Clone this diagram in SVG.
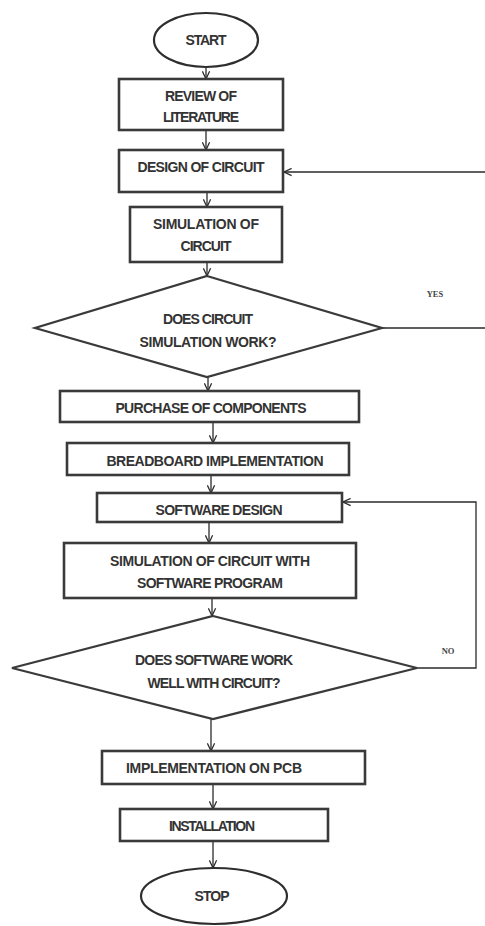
<svg xmlns="http://www.w3.org/2000/svg" width="485" height="926" viewBox="0 0 485 926">
  <defs>
    <marker id="arrow" viewBox="0 0 10 10" refX="9.5" refY="5" markerWidth="9" markerHeight="9" markerUnits="userSpaceOnUse" orient="auto">
      <path d="M1,1 L9.5,5 L1,9" fill="none" stroke="#2b2b2b" stroke-width="1.4"/>
    </marker>
  </defs>
  <style>
    .box { fill: #ffffff; stroke: #3a3a3a; stroke-width: 2.6; }
    .dia { fill: #ffffff; stroke: #3a3a3a; stroke-width: 2.2; }
    .term { fill: #ffffff; stroke: #2e2e2e; stroke-width: 2.2; }
    .lbl { font-family: "Liberation Sans", Arial, sans-serif; font-size: 14px; font-weight: bold; fill: #333333; text-anchor: middle; }
    .cond { font-family: "Liberation Serif", "Times New Roman", serif; font-size: 8.5px; font-weight: bold; fill: #444444; text-anchor: middle; }
    .conn { fill: none; stroke: #2b2b2b; stroke-width: 1.3; marker-end: url(#arrow); }
  </style>
  <rect width="485" height="926" fill="#ffffff"/>

  <!-- flow connectors -->
  <g id="connectors">
    <path class="conn" d="M206,67 V79"/>
    <path class="conn" d="M206,130 V150"/>
    <path class="conn" d="M207,192 V207"/>
    <path class="conn" d="M207,262 V276"/>
    <path class="conn" d="M208,377 V391"/>
    <path class="conn" d="M213,422 V443"/>
    <path class="conn" d="M211,475 V493"/>
    <path class="conn" d="M209,522 V543"/>
    <path class="conn" d="M212,598 V616"/>
    <path class="conn" d="M211,719 V751"/>
    <path class="conn" d="M213,785 V809"/>
    <path class="conn" d="M213,841 V868"/>
    <!-- YES: back to circuit design -->
    <path class="conn" d="M382,328 H492 V172 H284"/>
    <!-- NO: back to software design -->
    <path class="conn" d="M417,668 H476 V502 H343"/>
    <text class="cond" x="435" y="297">YES</text>
    <text class="cond" x="448" y="654">NO</text>
  </g>

  <g id="start">
    <ellipse class="term" cx="206" cy="40" rx="52" ry="27"/>
    <text class="lbl" x="206" y="45" textLength="41">START</text>
  </g>

  <g id="review-literature">
    <rect class="box" x="119" y="79" width="164" height="51"/>
    <text class="lbl" x="201" y="101" textLength="72">REVIEW OF</text>
    <text class="lbl" x="201" y="122" textLength="76">LITERATURE</text>
  </g>

  <g id="design-circuit">
    <rect class="box" x="119" y="150" width="164" height="42"/>
    <text class="lbl" x="201" y="172" textLength="127">DESIGN OF CIRCUIT</text>
  </g>

  <g id="simulate-circuit">
    <rect class="box" x="130" y="207" width="152" height="55"/>
    <text class="lbl" x="206" y="229" textLength="106">SIMULATION OF</text>
    <text class="lbl" x="206" y="251" textLength="51">CIRCUIT</text>
  </g>

  <g id="circuit-works">
    <polygon class="dia" points="207,276 382,328 207,377 35,328"/>
    <text class="lbl" x="208" y="324" textLength="90">DOES CIRCUIT</text>
    <text class="lbl" x="208" y="347" textLength="137">SIMULATION WORK?</text>
  </g>

  <g id="purchase-components">
    <rect class="box" x="60" y="391" width="299" height="31"/>
    <text class="lbl" x="211" y="413" textLength="191">PURCHASE OF COMPONENTS</text>
  </g>

  <g id="breadboard">
    <rect class="box" x="67" y="443" width="282" height="32"/>
    <text class="lbl" x="215" y="466" textLength="217">BREADBOARD IMPLEMENTATION</text>
  </g>

  <g id="software-design">
    <rect class="box" x="97" y="493" width="245" height="29"/>
    <text class="lbl" x="219" y="515" textLength="127">SOFTWARE DESIGN</text>
  </g>

  <g id="simulate-software">
    <rect class="box" x="64" y="543" width="292" height="55"/>
    <text class="lbl" x="210" y="566" textLength="200">SIMULATION OF CIRCUIT WITH</text>
    <text class="lbl" x="210" y="588" textLength="146">SOFTWARE PROGRAM</text>
  </g>

  <g id="software-works">
    <polygon class="dia" points="213,616 417,668 213,719 12,668"/>
    <text class="lbl" x="214" y="665" textLength="158">DOES SOFTWARE WORK</text>
    <text class="lbl" x="214" y="688" textLength="133">WELL WITH CIRCUIT?</text>
  </g>

  <g id="pcb">
    <rect class="box" x="102" y="751" width="263" height="33"/>
    <text class="lbl" x="214" y="773" textLength="176">IMPLEMENTATION ON PCB</text>
  </g>

  <g id="installation">
    <rect class="box" x="120" y="809" width="208" height="32"/>
    <text class="lbl" x="212" y="831" textLength="86">INSTALLATION</text>
  </g>

  <g id="stop">
    <ellipse class="term" cx="214" cy="896" rx="73" ry="28"/>
    <text class="lbl" x="212" y="901" textLength="35">STOP</text>
  </g>
</svg>
